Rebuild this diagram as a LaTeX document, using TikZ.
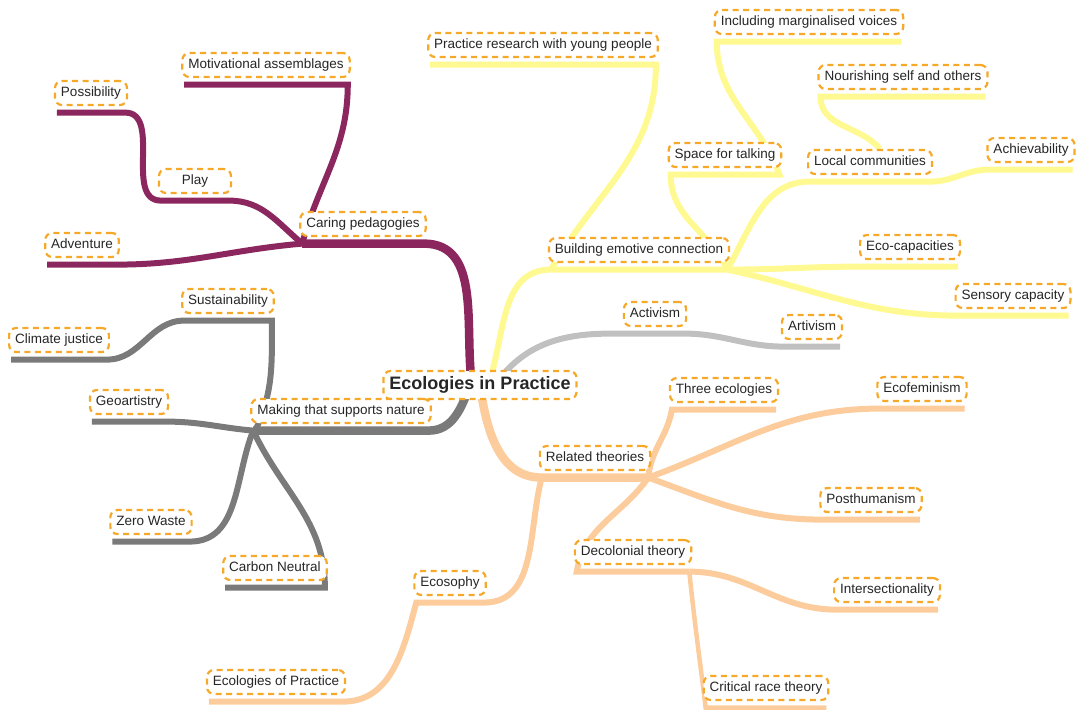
\documentclass[tikz,border=0pt]{standalone}
\usepackage{fontspec}
\setmainfont{Liberation Sans}
\usetikzlibrary{backgrounds}

\definecolor{plum}{RGB}{139,38,94}
\definecolor{slate}{RGB}{122,122,122}
\definecolor{silvergray}{RGB}{192,192,192}
\definecolor{lemon}{RGB}{255,249,145}
\definecolor{peach}{RGB}{252,204,156}
\definecolor{dashorange}{RGB}{246,168,40}

\tikzset{
  idea/.style = {draw = dashorange, line width = 2.2pt, dash pattern = on 6pt off 4.5pt,
    rounded corners = 7pt, fill = white, inner xsep = 6pt, inner ysep = 5.5pt,
    text height = 10pt, text depth = 3pt, text = black!85,
    font = \fontsize{13.5}{15}\selectfont},
  bough/.style = {line width = 8.5pt},
  twig/.style  = {line width = 6pt},
  sprig/.style = {line width = 4.5pt},
}

\begin{document}
\begin{tikzpicture}[x = 1pt, y = 1pt, line join = round]
    \useasboundingbox (0, 0) rectangle (1078, -709);

    \node[idea, font = \fontsize{18}{20}\selectfont\bfseries, text height = 13pt, text depth = 4pt, inner ysep = 5.5pt] (root) at (480, -385) {Ecologies in Practice};

    % caring
    \node[idea] (caring)  at (363, -224) {Caring pedagogies};
    \node[idea] (motiv)   at (266, -65)  {Motivational assemblages};
    \node[idea] (possib)  at (91, -93)   {Possibility};
    \node[idea, minimum width = 72pt] (play) at (195, -181) {Play};
    \node[idea] (adv)     at (82, -245)  {Adventure};

    % making
    \node[idea] (making)  at (341, -411) {Making that supports nature};
    \node[idea] (sust)    at (228, -301) {Sustainability};
    \node[idea] (climate) at (59, -340)  {Climate justice};
    \node[idea] (geo)     at (129, -402) {Geoartistry};
    \node[idea] (zero)    at (151, -522) {Zero Waste};
    \node[idea] (carbon)  at (275, -568) {Carbon Neutral};

    % activism
    \node[idea] (activ)   at (655, -314) {Activism};
    \node[idea] (artiv)   at (812, -327) {Artivism};

    % emotive
    \node[idea] (build)   at (639, -250) {Building emotive connection};
    \node[idea] (research) at (543, -45) {Practice research with young people};
    \node[idea] (space)   at (725, -155) {Space for talking};
    \node[idea] (margin)  at (809, -22)  {Including marginalised voices};
    \node[idea] (local)   at (870, -162) {Local communities};
    \node[idea] (nourish) at (903, -77)  {Nourishing self and others};
    \node[idea] (achiev)  at (1031, -150) {Achievability};
    \node[idea] (ecocap)  at (910, -247) {Eco-capacities};
    \node[idea] (sensory) at (1013, -296) {Sensory capacity};

    % theories
    \node[idea] (related) at (595, -458) {Related theories};
    \node[idea] (three)   at (724, -390) {Three ecologies};
    \node[idea] (ecofem)  at (922, -389) {Ecofeminism};
    \node[idea] (post)    at (871, -500) {Posthumanism};
    \node[idea] (decol)   at (633, -552) {Decolonial theory};
    \node[idea] (inter)   at (887, -590) {Intersectionality};
    \node[idea] (critical) at (766, -688) {Critical race theory};
    \node[idea] (ecosophy) at (450, -583) {Ecosophy};
    \node[idea] (ecolprac) at (276, -682) {Ecologies of Practice};

    \foreach \n in {caring, motiv, possib, play, adv, making, sust, climate, geo, zero, carbon,
        activ, artiv, build, research, space, margin, local, nourish, achiev, ecocap, sensory,
        related, three, ecofem, post, decol, inter, critical, ecosophy, ecolprac} {
      \coordinate (\n-l) at ([shift = {(3pt, -6.5pt)}]\n.south west);
      \coordinate (\n-r) at ([shift = {(-3pt, -6.5pt)}]\n.south east);
    }

    \begin{scope}[on background layer]
      \draw[plum, bough] ([xshift = -8pt]root.center) to[out = 98, in = 0] (caring-r) -- (caring-l);
      \draw[plum, twig] (caring-l) to[out = 75, in = -90] (motiv-r) -- (motiv-l);
      \draw[plum, twig] (caring-l) to[out = 140, in = 0] (play-r) -- (play-l)
        to[out = 180, in = 0] (possib-r) -- (possib-l);
      \draw[plum, twig] (caring-l) to[out = 185, in = 0] (adv-r) -- (adv-l);

      \draw[slate, bough] ([xshift = -10pt]root.center) to[out = -110, in = 0] (making-r) -- (making-l);
      \draw[slate, twig] ([xshift = 2pt]making-l) to[out = 65, in = -90] (sust-r) -- (sust-l)
        to[out = 180, in = 0] (climate-r) -- (climate-l);
      \draw[slate, twig] (making-l) to[out = 175, in = 0] (geo-r) -- (geo-l);
      \draw[slate, twig] (making-l) to[out = -112, in = 0] (zero-r) -- (zero-l);
      \draw[slate, twig] (making-l) to[out = -65, in = 90] (carbon-r) -- (carbon-l);

      \draw[silvergray, twig] ([xshift = 15pt]root.center) to[out = 55, in = 180] ([xshift = -15pt]activ-l)
        -- (activ-r) to[out = 0, in = 180] (artiv-l) -- (artiv-r);

      \draw[lemon, twig] ([xshift = 8pt]root.center) to[out = 70, in = 180] (build-l) -- (build-r);
      \draw[lemon, twig] (build-l) to[out = 60, in = -90] (research-r) -- (research-l);
      \draw[lemon, twig] (build-r) to[out = 115, in = -90] (space-l) -- (space-r)
        to[out = 110, in = -90] (margin-l) -- (margin-r);
      \draw[lemon, twig] (build-r) to[out = 60, in = 180] (local-l) -- (local-r)
        to[out = 0, in = 180] (achiev-l) -- (achiev-r);
      \draw[lemon, twig] ([xshift = 10pt]local.north) to[out = 130, in = -90] (nourish-l) -- (nourish-r);
      \draw[lemon, twig] (build-r) to[out = 0, in = 180] (ecocap-l) -- (ecocap-r);
      \draw[lemon, twig] (build-r) to[out = -12, in = 180] (sensory-l) -- (sensory-r);

      \draw[peach, bough] (root.center) to[out = -82, in = 180] (related-l) -- (related-r);
      \draw[peach, twig] (related-r) to[out = 85, in = -100] (three-l) -- (three-r);
      \draw[peach, twig] (related-r) to[out = 20, in = 180] (ecofem-l) -- (ecofem-r);
      \draw[peach, twig] (related-r) to[out = -20, in = 180] (post-l) -- (post-r);
      \draw[peach, twig] (related-r) to[out = -125, in = 80] (decol-l) -- (decol-r);
      \draw[peach, twig] (decol-r) to[out = 0, in = 180] (inter-l) -- (inter-r);
      \draw[peach, sprig] (decol-r) to[out = -84, in = 97] (critical-l) -- (critical-r);
      \draw[peach, twig] (related-l) to[out = -105, in = 0] (ecosophy-r) -- (ecosophy-l)
        to[out = -105, in = 0] (ecolprac-r) -- (ecolprac-l);
    \end{scope}
  \end{tikzpicture}
\end{document}
